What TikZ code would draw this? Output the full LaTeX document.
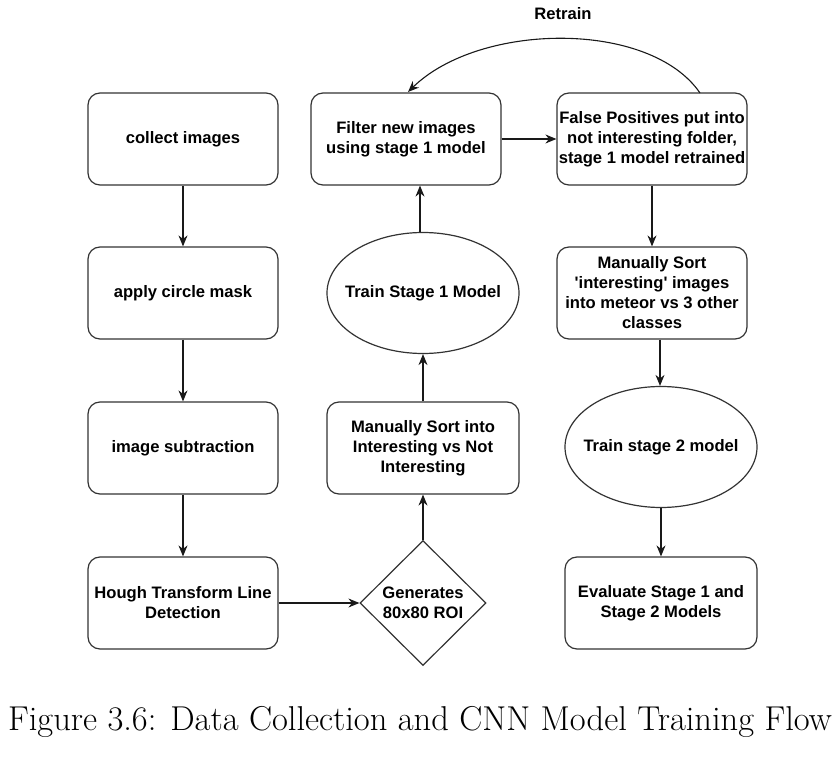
\documentclass[tikz,border=0pt]{standalone}
\usepackage{fontspec}
\setmainfont{Latin Modern Roman}
\newfontfamily\boxfont{Liberation Sans}
\usetikzlibrary{shapes.geometric,arrows.meta}
\tikzset{
  bfnt/.style={font=\boxfont\bfseries\fontsize{16.6}{20}\selectfont},
  base/.style={draw=black!80, line width=1.2pt, align=center, inner sep=0pt, bfnt},
  rbox/.style={base, rectangle, rounded corners=12pt, minimum width=190pt, minimum height=92pt},
  oval/.style={base, ellipse, inner xsep=-20pt, minimum width=192pt, minimum height=121pt},
  dia/.style={base, diamond, minimum width=126pt, minimum height=125pt},
  arr/.style={draw=black!90, line width=1.1pt, -{Stealth[length=11pt,width=9pt]}},
}
\begin{document}
\begin{tikzpicture}[x=1pt,y=-1pt]
\useasboundingbox (0,0) rectangle (836,759);
\node[rbox] (c1) at (183,139) {collect images};
\node[rbox] (c2) at (183,293) {apply circle mask};
\node[rbox] (c3) at (183,448) {image subtraction};
\node[rbox] (c4) at (183,603) {Hough Transform Line\\Detection};
\node[dia] (d) at (423,603) {Generates\\80x80 ROI};
\node[rbox, minimum width=192pt] (m1) at (423,448) {Manually Sort into\\Interesting vs Not\\Interesting};
\node[oval] (e1) at (423,293) {Train Stage 1 Model};
\node[rbox] (f) at (406,139) {Filter new images\\using stage 1 model};
\node[rbox] (fp) at (652,139) {False Positives put into\\not interesting folder,\\stage 1 model retrained};
\node[rbox] (m2) at (652,293) {Manually Sort\\'interesting' images\\into meteor vs 3 other\\classes};
\node[oval] (e2) at (661,447) {Train stage 2 model};
\node[rbox, minimum width=192pt] (ev) at (661,603) {Evaluate Stage 1 and\\Stage 2 Models};
\node[bfnt] (rt) at (563,14) {Retrain};
\node[font=\fontsize{34.5}{40}\selectfont] (cap) at (420,722) {Figure 3.6: Data Collection and CNN Model Training Flow};

\coordinate (a1) at (700,93);
\coordinate (a2) at (408,92);
\draw[arr] (c1) -- (c2);
\draw[arr] (c2) -- (c3);
\draw[arr] (c3) -- (c4);
\draw[arr] (c4) -- (d);
\draw[arr] (d) -- (m1);
\draw[arr] (m1) -- (e1);
\draw[arr] (e1.north -| 420,0) -- (f.south -| 420,0);
\draw[arr] (f) -- (fp);
\draw[arr] (fp) -- (m2);
\draw[arr] (m2.south -| 660,0) -- (e2.north -| 660,0);
\draw[arr] (e2) -- (ev);
\draw[arr] (a1) .. controls (650,20) and (480,22) .. (a2);
\end{tikzpicture}
\end{document}
